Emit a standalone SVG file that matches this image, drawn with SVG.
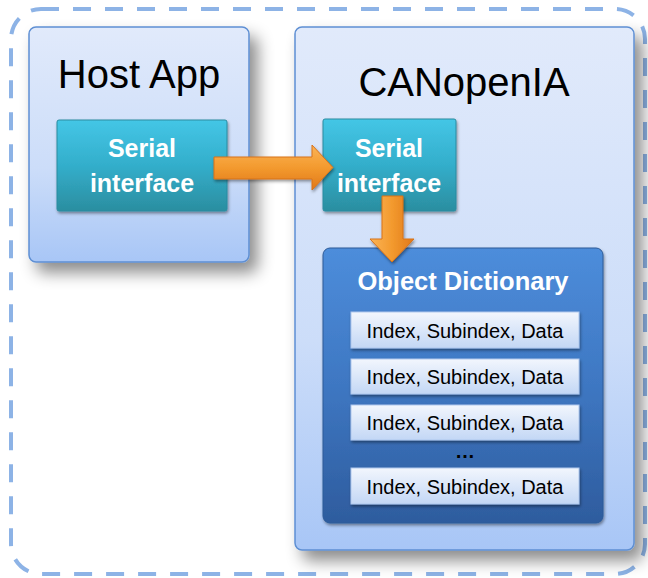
<svg xmlns="http://www.w3.org/2000/svg" width="648" height="578" viewBox="0 0 648 578">
<defs>
<linearGradient id="gPanel" x1="0" y1="0" x2="0" y2="1">
<stop offset="0" stop-color="#E1EAFB"/><stop offset="0.6" stop-color="#CCDDF9"/><stop offset="1" stop-color="#A8C6F6"/>
</linearGradient>
<linearGradient id="gTeal" x1="0" y1="0" x2="0" y2="1">
<stop offset="0" stop-color="#44C6E6"/><stop offset="0.5" stop-color="#33AECB"/><stop offset="1" stop-color="#2B8EA0"/>
</linearGradient>
<linearGradient id="gOD" x1="0" y1="0" x2="0" y2="1">
<stop offset="0" stop-color="#4D8DDB"/><stop offset="0.5" stop-color="#3E77C2"/><stop offset="1" stop-color="#2E5C9E"/>
</linearGradient>
<linearGradient id="gEntry" x1="0" y1="0" x2="0" y2="1">
<stop offset="0" stop-color="#F2F6FD"/><stop offset="1" stop-color="#C3D7F5"/>
</linearGradient>
<linearGradient id="gArrowH" x1="0" y1="0" x2="0" y2="1">
<stop offset="0" stop-color="#FBB457"/><stop offset="0.5" stop-color="#F39A2E"/><stop offset="1" stop-color="#E0781A"/>
</linearGradient>
<linearGradient id="gArrowV" x1="0" y1="0" x2="1" y2="0">
<stop offset="0" stop-color="#FBB457"/><stop offset="0.5" stop-color="#F39A2E"/><stop offset="1" stop-color="#E0781A"/>
</linearGradient>
<filter id="shBig" x="-15%" y="-15%" width="140%" height="140%">
<feDropShadow dx="8" dy="10" stdDeviation="8" flood-color="#000" flood-opacity="0.45"/>
</filter>
<filter id="shSmall" x="-10%" y="-10%" width="130%" height="140%">
<feDropShadow dx="1" dy="2" stdDeviation="1.5" flood-color="#000" flood-opacity="0.4"/>
</filter>
</defs>
<style>
.panel{fill:url(#gPanel);stroke:#5E8FD3;stroke-width:1.5}
.teal{fill:url(#gTeal);stroke:#2A8BA0;stroke-width:1}
.od{fill:url(#gOD);stroke:#2C5A98;stroke-width:1}
.entry{fill:url(#gEntry);stroke:#AFC8EE;stroke-width:1}
.title{font-family:"Liberation Sans",Arial,sans-serif;font-size:40px;fill:#000;text-anchor:middle}
.wb{font-family:"Liberation Sans",Arial,sans-serif;font-weight:bold;fill:#fff;text-anchor:middle}
.et{font-family:"Liberation Sans",Arial,sans-serif;font-size:20px;fill:#000;text-anchor:middle}
.arrow{stroke:#D8731A;stroke-width:1}
</style>
<rect x="11" y="9" width="634" height="565" rx="30" fill="none" stroke="#8DB3E6" stroke-width="4" stroke-dasharray="18 14"/>
<g id="host-app">
<rect class="panel" x="29" y="27" width="220" height="235" rx="7" filter="url(#shBig)"/>
<text class="title" x="139" y="88" font-size="41">Host App</text>
</g>
<g id="canopenia">
<rect class="panel" x="295" y="27" width="339" height="523" rx="7" filter="url(#shBig)"/>
<text class="title" x="464" y="96">CANopenIA</text>
</g>
<g id="serial-host">
<rect class="teal" x="57" y="120" width="170" height="91" rx="2" filter="url(#shSmall)"/>
<text class="wb" x="142" y="157" font-size="25">Serial</text>
<text class="wb" x="142" y="192" font-size="25">interface</text>
</g>
<g id="serial-canopenia">
<rect class="teal" x="323" y="119" width="133" height="92" rx="2" filter="url(#shSmall)"/>
<text class="wb" x="389" y="157" font-size="25">Serial</text>
<text class="wb" x="389" y="192" font-size="25">interface</text>
</g>
<g id="object-dictionary">
<rect class="od" x="323" y="248" width="280" height="275" rx="7" filter="url(#shSmall)"/>
<text class="wb" x="463" y="290" font-size="25.5">Object Dictionary</text>
<rect class="entry" x="351" y="312" width="228" height="36" filter="url(#shSmall)"/>
<text class="et" x="465" y="338">Index, Subindex, Data</text>
<rect class="entry" x="351" y="359" width="228" height="35" filter="url(#shSmall)"/>
<text class="et" x="465" y="384">Index, Subindex, Data</text>
<rect class="entry" x="351" y="405" width="228" height="35" filter="url(#shSmall)"/>
<text class="et" x="465" y="430">Index, Subindex, Data</text>
<text class="et" x="465" y="458" font-weight="bold">…</text>
<rect class="entry" x="351" y="468" width="228" height="36" filter="url(#shSmall)"/>
<text class="et" x="465" y="494">Index, Subindex, Data</text>
</g>
<g id="connectors">
<polygon class="arrow" fill="url(#gArrowH)" filter="url(#shSmall)" points="214,157 312,157 312,145 333,167.5 312,190 312,179 214,179"/>
<polygon class="arrow" fill="url(#gArrowV)" filter="url(#shSmall)" points="382,196 403,196 403,239 414,239 392,262 370,239 382,239"/>
</g>
</svg>
